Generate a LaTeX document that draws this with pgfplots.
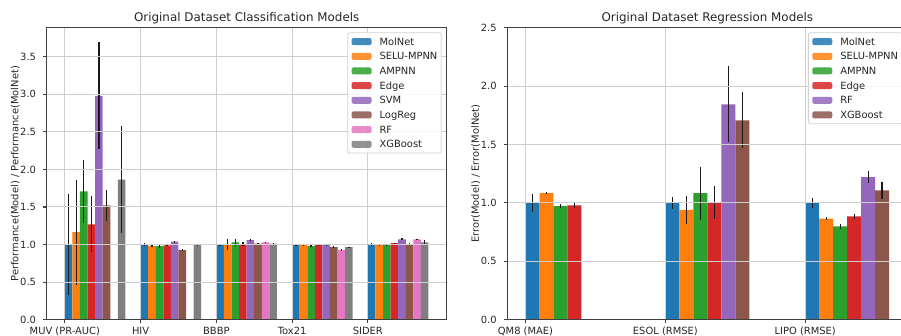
\documentclass[border=0pt]{standalone}
\usepackage{fontspec}
\setmainfont{DejaVu Sans}
\usepackage{pgfplots}
\usepackage{pgfplotstable}
\pgfplotsset{compat=1.18}

\definecolor{c0}{HTML}{1F77B4}
\definecolor{c1}{HTML}{FF7F0E}
\definecolor{c2}{HTML}{2CA02C}
\definecolor{c3}{HTML}{D62728}
\definecolor{c4}{HTML}{9467BD}
\definecolor{c5}{HTML}{8C564B}
\definecolor{c6}{HTML}{E377C2}
\definecolor{c7}{HTML}{7F7F7F}
\definecolor{gridc}{HTML}{CFCFCF}
\definecolor{spine}{HTML}{404040}

% ---------- Classification (x = dataset index + bar offset) ----------
\pgfplotstableread{
x y e
0.05 1.000 0.675
1.05 1.000 0.015
2.05 1.000 0.010
3.05 1.000 0.005
4.05 1.000 0.015
}\cMolNet
\pgfplotstableread{
x y e
0.15 1.164 0.697
1.15 0.980 0.008
2.15 1.000 0.078
3.15 0.995 0.008
4.15 0.995 0.008
}\cSELU
\pgfplotstableread{
x y e
0.25 1.708 0.416
1.25 0.980 0.025
2.25 1.030 0.050
3.25 0.980 0.015
4.25 1.000 0.012
}\cAMPNN
\pgfplotstableread{
x y e
0.35 1.270 0.375
1.35 0.990 0.010
2.35 1.005 0.030
3.35 1.000 0.010
4.35 1.018 0.008
}\cEdge
\pgfplotstableread{
x y e
0.45 2.980 0.715
1.45 1.040 0.008
2.45 1.058 0.010
3.45 0.995 0.006
4.45 1.070 0.015
}\cSVM
\pgfplotstableread{
x y e
0.55 1.520 0.200
1.55 0.925 0.015
2.55 1.013 0.004
3.55 0.965 0.012
4.55 1.005 0.012
}\cLogReg
\pgfplotstableread{
x y e
0.65 0.000 0.010
1.65 0.000 0.010
2.65 1.030 0.008
3.65 0.925 0.012
4.65 1.070 0.008
}\cRF
\pgfplotstableread{
x y e
0.75 1.863 0.710
1.75 1.000 0.008
2.75 1.013 0.010
3.75 0.965 0.008
4.75 1.030 0.030
}\cXGB

% ---------- Regression ----------
\pgfplotstableread{
x y e
0.05 1.000 0.075
1.05 1.000 0.050
2.05 1.000 0.042
}\rMolNet
\pgfplotstableread{
x y e
0.15 1.085 0.010
1.15 0.940 0.117
2.15 0.865 0.015
}\rSELU
\pgfplotstableread{
x y e
0.25 0.973 0.020
1.25 1.083 0.225
2.25 0.800 0.020
}\rAMPNN
\pgfplotstableread{
x y e
0.35 0.980 0.020
1.35 1.003 0.140
2.35 0.885 0.020
}\rEdge
\pgfplotstableread{
x y e
0.45 0.000 0.010
1.45 1.844 0.326
2.45 1.220 0.052
}\rRF
\pgfplotstableread{
x y e
0.55 0.000 0.010
1.55 1.707 0.240
2.55 1.108 0.075
}\rXGB

\newcommand{\smallfont}{\fontsize{7.44}{8.9}\selectfont}
\newcommand{\titlefont}{\fontsize{8.93}{10.7}\selectfont}

\pgfplotsset{
  mplbar/.style={
    scale only axis, width=300pt, height=219pt,
    ybar, bar width=0.1, bar shift=0pt,
    axis on top,
    grid=major,
    major grid style={draw=gridc, line width=0.75pt},
    axis line style={draw=spine, line width=0.8pt},
    tick align=outside, tick pos=left,
    major tick length=2.6pt,
    every tick/.style={draw=spine, line width=0.8pt},
    ymin=0,
    tick label style={font=\smallfont, text=black!85},
    /pgf/number format/assume math mode=true,
    yticklabel={\pgfmathprintnumber[fixed,fixed zerofill,precision=1]{\tick}},
    xticklabel style={anchor=north, inner sep=0pt, yshift=-2.9pt},
    yticklabel style={anchor=east, inner sep=0pt, xshift=-5.2pt},
    title style={font=\titlefont, text=black!85, at={(0.5,1)}, anchor=base, inner sep=0pt, yshift=-1.5pt},
    every axis y label/.style={at={(axis description cs:-0.071,0.5)}, rotate=90, anchor=base, inner sep=0pt, font=\smallfont, text=black!85},
    error bars/y dir=both,
    error bars/y explicit,
    error bars/error mark=none,
    error bars/error bar style={line width=1pt, draw=black!90},
    legend image code/.code={\fill[##1,draw=none] (0pt,-2.625pt) rectangle (15pt,2.625pt);},
    legend cell align=left,
    legend style={anchor=north east, at={(0.9875,0.984)},
      draw=black!18, line width=0.6pt, rounded corners=1.5pt, fill=white, fill opacity=0.85, text opacity=1,
      font=\smallfont, text=black!85,
      inner xsep=2.9pt, inner ysep=3.1pt,
      column sep=6pt, row sep=4pt,
      nodes={inner sep=0pt, text height=6.2pt, text depth=0.8pt}},
  }
}

\begin{document}
\begin{tikzpicture}
\useasboundingbox (0,0) rectangle (675.75pt,252pt);
\clip (0,0) rectangle (675.75pt,252pt);

\begin{axis}[mplbar,
  at={(35pt,12.2pt)}, anchor=south west,
  xmin=-0.24, xmax=5.04, ymax=3.885,
  xtick={0,1,2,3,4},
  xticklabels={MUV (PR-AUC),HIV,BBBP,Tox21,SIDER},
  ytick={0,0.5,1,1.5,2,2.5,3,3.5},
  title={Original Dataset Classification Models},
  ylabel={Performance(Model) / Performance(MolNet)},
]
\addplot[fill=c0, draw=none] table[x=x,y=y,y error=e] {\cMolNet};
\addlegendentry{MolNet}
\addplot[fill=c1, draw=none] table[x=x,y=y,y error=e] {\cSELU};
\addlegendentry{SELU-MPNN}
\addplot[fill=c2, draw=none] table[x=x,y=y,y error=e] {\cAMPNN};
\addlegendentry{AMPNN}
\addplot[fill=c3, draw=none] table[x=x,y=y,y error=e] {\cEdge};
\addlegendentry{Edge}
\addplot[fill=c4, draw=none] table[x=x,y=y,y error=e] {\cSVM};
\addlegendentry{SVM}
\addplot[fill=c5, draw=none] table[x=x,y=y,y error=e] {\cLogReg};
\addlegendentry{LogReg}
\addplot[fill=c6, draw=none] table[x=x,y=y,y error=e] {\cRF};
\addlegendentry{RF}
\addplot[fill=c7, draw=none] table[x=x,y=y,y error=e] {\cXGB};
\addlegendentry{XGBoost}
\end{axis}

\begin{axis}[mplbar,
  at={(380.5pt,12.2pt)}, anchor=south west,
  xmin=-0.13, xmax=2.73, ymax=2.5,
  xtick={0,1,2},
  xticklabels={QM8 (MAE),ESOL (RMSE),LIPO (RMSE)},
  ytick={0,0.5,1,1.5,2,2.5},
  title={Original Dataset Regression Models},
  ylabel={Error(Model) / Error(MolNet)},
]
\addplot[fill=c0, draw=none] table[x=x,y=y,y error=e] {\rMolNet};
\addlegendentry{MolNet}
\addplot[fill=c1, draw=none] table[x=x,y=y,y error=e] {\rSELU};
\addlegendentry{SELU-MPNN}
\addplot[fill=c2, draw=none] table[x=x,y=y,y error=e] {\rAMPNN};
\addlegendentry{AMPNN}
\addplot[fill=c3, draw=none] table[x=x,y=y,y error=e] {\rEdge};
\addlegendentry{Edge}
\addplot[fill=c4, draw=none] table[x=x,y=y,y error=e] {\rRF};
\addlegendentry{RF}
\addplot[fill=c5, draw=none] table[x=x,y=y,y error=e] {\rXGB};
\addlegendentry{XGBoost}
\end{axis}
\end{tikzpicture}
\end{document}
